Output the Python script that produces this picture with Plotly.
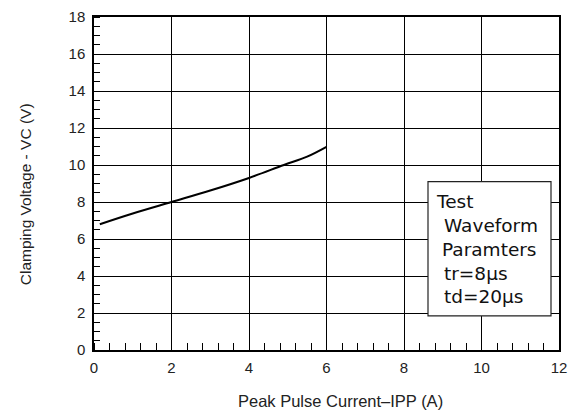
import plotly.graph_objects as go

# data
current_a = [0.15, 1.0, 2.0, 3.0, 4.0, 4.9, 5.5, 6.0]
clamp_v = [6.8, 7.38, 8.0, 8.62, 9.3, 10.0, 10.45, 10.98]

x_ticks = [0, 2, 4, 6, 8, 10, 12]
y_ticks = [0, 2, 4, 6, 8, 10, 12, 14, 16, 18]

box_lines = ["Test", "Waveform", "Paramters", "tr=8µs", "td=20µs"]

FONT = "Liberation Sans, Arial, sans-serif"

fig = go.Figure()
fig.add_trace(go.Scatter(x=current_a, y=clamp_v, mode="lines",
                         line=dict(color="black", width=2, shape="spline"),
                         showlegend=False, hoverinfo="skip"))

fig.update_layout(
    width=576, height=416,
    margin=dict(l=94, r=17, t=8, b=66),
    paper_bgcolor="white", plot_bgcolor="white",
    font=dict(family=FONT, color="#222"),
    xaxis=dict(range=[0, 12], tickvals=x_ticks, ticktext=[str(v) for v in x_ticks],
               showgrid=True, gridcolor="black", gridwidth=1,
               showline=True, linecolor="black", linewidth=1.5, mirror=True,
               ticks="", zeroline=False, tickfont=dict(size=15, color="#222"),
               ticklabelstandoff=3,
               minor=dict(dtick=0.4, tick0=0, ticks="inside", ticklen=7,
                          tickcolor="black", tickwidth=1.2, showgrid=False)),
    yaxis=dict(range=[0, 18], tickvals=y_ticks, ticktext=[str(v) for v in y_ticks],
               showgrid=True, gridcolor="black", gridwidth=1,
               showline=True, linecolor="black", linewidth=1.5, mirror=True,
               ticks="", zeroline=False, tickfont=dict(size=15, color="#222"),
               ticklabelstandoff=4,
               minor=dict(dtick=0.5, tick0=0, ticks="inside", ticklen=6,
                          tickcolor="black", tickwidth=1.2, showgrid=False)),
)


def px_x(p):
    return (p - 94) / (559 - 94)


def px_y(p):
    return (350 - p) / (350 - 8)


# axis titles
fig.add_annotation(x=px_x(340), y=px_y(402), xref="paper", yref="paper",
                   text="Peak Pulse Current–IPP (A)", showarrow=False,
                   font=dict(size=16.5, color="#222"), xanchor="center", yanchor="middle")
fig.add_annotation(x=px_x(25), y=px_y(190), xref="paper", yref="paper",
                   text="Clamping Voltage - VC (V)", showarrow=False, textangle=-90,
                   font=dict(size=15.5, color="#222"), xanchor="center", yanchor="middle")

# text box
fig.add_shape(type="rect", xref="paper", yref="paper",
              x0=px_x(428), x1=px_x(551), y0=px_y(315), y1=px_y(177),
              line=dict(color="#222", width=1.2), fillcolor="white", layer="above")
line_y = [197.5, 222, 246.5, 271, 295.5]
line_x = [434, 442, 440, 442, 442]
for t, yy, xx in zip(box_lines, line_y, line_x):
    fig.add_annotation(x=px_x(xx), y=px_y(yy), xref="paper", yref="paper", text=t,
                       showarrow=False, xanchor="left", yanchor="middle",
                       font=dict(size=18.5, color="#111", family="DejaVu Sans, sans-serif"))

fig.write_html("out.html")
